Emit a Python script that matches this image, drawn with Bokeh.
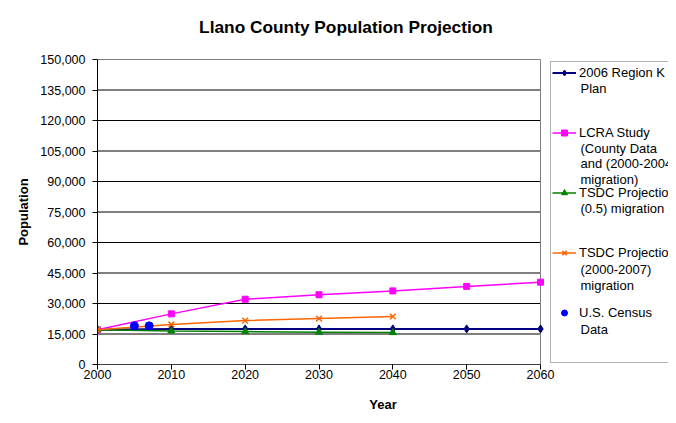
from bokeh.plotting import figure
from bokeh.models import (Legend, LegendItem, Label, NumeralTickFormatter, FixedTicker, Range1d,
                          Div, BoxAnnotation)
from bokeh.layouts import column
from bokeh.embed import file_html
from bokeh.resources import INLINE

title_text = "Llano County Population Projection"
x_label = "Year"
y_label = "Population"

year_ticks = [2000, 2010, 2020, 2030, 2040, 2050, 2060]
pop_ticks = [0, 15000, 30000, 45000, 60000, 75000, 90000, 105000, 120000, 135000, 150000]

regionk_years = [2000, 2010, 2020, 2030, 2040, 2050, 2060]
regionk_pop = [17044, 17500, 17500, 17500, 17500, 17500, 17500]

lcra_years = [2000, 2010, 2020, 2030, 2040, 2050, 2060]
lcra_pop = [17044, 24900, 32100, 34300, 36200, 38400, 40500]

tsdc05_years = [2000, 2010, 2020, 2030, 2040]
tsdc05_pop = [17044, 16500, 16200, 15900, 15700]

tsdc07_years = [2000, 2010, 2020, 2030, 2040]
tsdc07_pop = [17044, 19700, 21600, 22600, 23600]

census_years = [2005, 2007]
census_pop = [19000, 19000]

legend_labels = [
    ["2006 Region K", "Plan"],
    ["LCRA Study", "(County Data", "and (2000-2004)", "migration)"],
    ["TSDC Projection", "(0.5) migration"],
    ["TSDC Projection", "(2000-2007)", "migration"],
    ["U.S. Census", "Data"],
]

FONT = "Liberation Sans"

W, H_TOTAL = 668, 415
TITLE_H = 35
H = H_TOTAL - TITLE_H
# plot area in page pixels
FL, FT, FB, FR = 97, 59, 364, 540
x_start, x_end = year_ticks[0], year_ticks[-1]
px_per_year = (FR - FL) / (x_end - x_start)
x_max = x_start + (W - FL) / px_per_year

title = Div(text=title_text, width=W, height=TITLE_H, margin=(0, 0, 0, 0),
            styles={"font-family": FONT, "font-size": "17.3px", "font-weight": "bold",
                    "color": "black", "text-align": "center", "line-height": "20px",
                    "padding-top": "17px", "padding-left": "24px", "box-sizing": "border-box",
                    "background-color": "white", "white-space": "nowrap"})

p = figure(width=W, height=H, output_backend="svg", toolbar_location=None,
           x_range=Range1d(x_start, x_max), y_range=Range1d(pop_ticks[0], pop_ticks[-1]),
           min_border_left=FL, min_border_right=0, min_border_top=FT - TITLE_H,
           min_border_bottom=H_TOTAL - FB)
p.margin = (0, 0, 0, 0)
p.background_fill_color = "white"
p.border_fill_color = "white"
p.outline_line_color = None
p.xgrid.visible = False
p.ygrid.visible = False

# horizontal gridlines limited to the plot area
p.segment(x0=[x_start] * len(pop_ticks), x1=[x_end] * len(pop_ticks), y0=pop_ticks, y1=pop_ticks,
          line_color="black", line_width=1)
# right edge of plot area
p.segment(x0=[x_end], x1=[x_end], y0=[pop_ticks[0]], y1=[pop_ticks[-1]], line_color="#808080", line_width=1)
# x axis line limited to plot area
p.segment(x0=[x_start], x1=[x_end], y0=[pop_ticks[0]], y1=[pop_ticks[0]], line_color="black", line_width=1)

p.xaxis.ticker = FixedTicker(ticks=year_ticks)
p.yaxis.ticker = FixedTicker(ticks=pop_ticks)
p.yaxis.formatter = NumeralTickFormatter(format="0,0")
for ax in (p.xaxis, p.yaxis):
    ax.axis_line_color = "black"
    ax.major_tick_line_color = "black"
    ax.major_tick_out = 5
    ax.major_tick_in = 0
    ax.minor_tick_line_color = None
    ax.major_label_text_font = FONT
    ax.major_label_text_font_size = "12.5px"
    ax.major_label_text_color = "black"
    ax.axis_label_text_font = FONT
    ax.axis_label_text_font_size = "13px"
    ax.axis_label_text_font_style = "bold"
    ax.axis_label_text_color = "black"
p.xaxis.axis_line_color = None
p.xaxis.axis_label = x_label
p.yaxis.axis_label = y_label
p.xaxis.major_label_standoff = 0
p.xaxis.axis_label_standoff = 15
p.yaxis.major_label_standoff = 7
p.yaxis.axis_label_standoff = 6

r1l = p.line(regionk_years, regionk_pop, line_color="#000080", line_width=2)
r1m = p.scatter(regionk_years, regionk_pop, marker="diamond", size=8, color="#000080")
r2l = p.line(lcra_years, lcra_pop, line_color="#FF00FF", line_width=1.5)
r2m = p.scatter(lcra_years, lcra_pop, marker="square", size=6, color="#FF00FF")
r3l = p.line(tsdc05_years, tsdc05_pop, line_color="#008000", line_width=1.5)
r3m = p.scatter(tsdc05_years, tsdc05_pop, marker="triangle", size=7, color="#008000")
r4l = p.line(tsdc07_years, tsdc07_pop, line_color="#FF6600", line_width=1.5)
r4m = p.scatter(tsdc07_years, tsdc07_pop, marker="x", size=8, line_color="#FF6600", line_width=1.5)
r5m = p.scatter(census_years, census_pop, marker="circle", size=8, color="#0000FF")

# legend (page pixel layout)
LG_LEFT, LG_TOP, LG_BOTTOM = 550, 61, 362
first_centers = [72.5, 132, 192, 253.5, 313]
ITEM_H = 15
LINE_STEP = 15.5
PAD = 4

legend = Legend(items=[
    LegendItem(label=legend_labels[0][0], renderers=[r1l, r1m]),
    LegendItem(label=legend_labels[1][0], renderers=[r2l, r2m]),
    LegendItem(label=legend_labels[2][0], renderers=[r3l, r3m]),
    LegendItem(label=legend_labels[3][0], renderers=[r4l, r4m]),
    LegendItem(label=legend_labels[4][0], renderers=[r5m]),
])
legend.label_text_font = FONT
legend.label_text_font_size = "13px"
legend.label_text_color = "black"
legend.border_line_color = None
legend.background_fill_alpha = 0
legend.glyph_width = 24
legend.glyph_height = ITEM_H
legend.label_height = ITEM_H
legend.label_standoff = 3
legend.spacing = 45
legend.padding = PAD
legend.margin = 0
leg_h = 2 * PAD + 5 * ITEM_H + 4 * 45
leg_top = first_centers[0] - ITEM_H / 2 - PAD - 4.5
legend.location = (LG_LEFT - FL + 2, FB - (leg_top + leg_h))
p.add_layout(legend, "center")

box = BoxAnnotation(left=LG_LEFT - FL, right=W - FL + 20, top=FB - LG_TOP, bottom=FB - LG_BOTTOM,
                    left_units="screen", right_units="screen", top_units="screen", bottom_units="screen",
                    fill_alpha=0, line_color="black", line_width=1)
p.add_layout(box)

text_x = LG_LEFT - FL + PAD + 24 + 3 - 1
for lines, c in zip(legend_labels, first_centers):
    for k, line in enumerate(lines[1:], start=1):
        p.add_layout(Label(x=text_x, y=FB - (c + k * LINE_STEP), x_units="screen", y_units="screen",
                           text=line, text_font=FONT, text_font_size="13px", text_color="black",
                           text_baseline="middle", text_align="left"))

layout = column(title, p, spacing=0)
open("out.html", "w").write(file_html(layout, INLINE))
